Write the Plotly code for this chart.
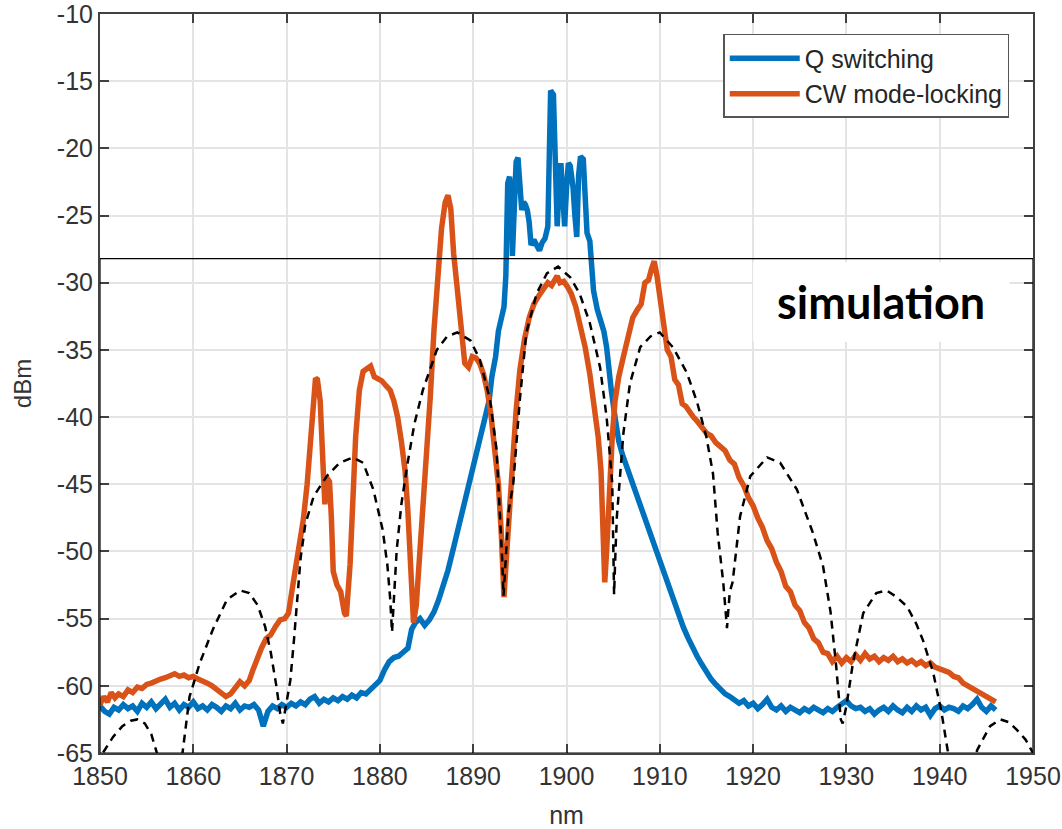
import plotly.graph_objects as go

# Measured spectrum: Q switching
q_nm = [1850.0, 1850.5, 1851.0, 1851.5, 1852.0, 1852.5, 1853.0, 1853.5, 1854.0, 1854.5,
        1855.0, 1855.5, 1856.0, 1856.5, 1857.0, 1857.5, 1858.0, 1858.5, 1859.0, 1859.5,
        1860.0, 1860.5, 1861.0, 1861.5, 1862.0, 1862.5, 1863.0, 1863.5, 1864.0, 1864.5,
        1865.0, 1865.5, 1866.0, 1866.5, 1867.0, 1867.5, 1868.0, 1868.5, 1869.0, 1869.5,
        1870.0, 1870.5, 1871.0, 1871.5, 1872.0, 1872.5, 1873.0, 1873.5, 1874.0, 1874.5,
        1875.0, 1875.5, 1876.0, 1876.5, 1877.0, 1877.5, 1878.0, 1878.5, 1879.0, 1879.5,
        1880.0, 1880.5, 1881.0, 1881.5, 1882.0, 1882.5, 1883.0, 1883.4, 1883.8, 1884.3,
        1884.8, 1885.3, 1885.8, 1886.3, 1886.8, 1887.3, 1887.8, 1888.3, 1888.8, 1889.3,
        1889.8, 1890.3, 1890.8, 1891.3, 1891.7, 1892.0, 1892.4, 1892.7, 1893.0, 1893.3,
        1893.5, 1893.6, 1893.7, 1893.9, 1894.1, 1894.2, 1894.4, 1894.6, 1894.8, 1895.0,
        1895.2, 1895.4, 1895.6, 1895.8, 1896.0, 1896.2, 1896.5, 1896.8, 1897.1, 1897.4,
        1897.7, 1898.0, 1898.1, 1898.3, 1898.6, 1898.8, 1899.0, 1899.2, 1899.4, 1899.6,
        1899.8, 1900.0, 1900.2, 1900.4, 1900.7, 1900.9, 1901.1, 1901.3, 1901.5, 1901.8,
        1902.0, 1902.2, 1902.5, 1902.7, 1902.9, 1903.3, 1903.7, 1904.0, 1904.3, 1904.5,
        1904.8, 1905.2, 1905.6, 1906.0, 1906.5, 1907.0, 1907.5, 1908.0, 1908.5, 1909.0,
        1909.5, 1910.0, 1910.5, 1911.0, 1911.5, 1912.0, 1912.5, 1913.0, 1913.5, 1914.0,
        1914.5, 1915.0, 1915.5, 1916.0, 1916.5, 1917.0, 1917.5, 1918.0, 1918.5, 1919.0,
        1919.5, 1920.0, 1920.5, 1921.0, 1921.5, 1922.0, 1922.5, 1923.0, 1923.5, 1924.0,
        1924.5, 1925.0, 1925.5, 1926.0, 1926.5, 1927.0, 1927.5, 1928.0, 1928.5, 1929.0,
        1929.5, 1930.0, 1930.5, 1931.0, 1931.5, 1932.0, 1932.5, 1933.0, 1933.5, 1934.0,
        1934.5, 1935.0, 1935.5, 1936.0, 1936.5, 1937.0, 1937.5, 1938.0, 1938.5, 1939.0,
        1939.5, 1940.0, 1940.5, 1941.0, 1941.5, 1942.0, 1942.5, 1943.0, 1943.5, 1944.0,
        1944.5, 1945.0, 1945.5, 1946.0]
q_dbm = [-61.5, -61.9, -62.1, -61.6, -61.8, -61.4, -61.7, -61.5, -61.9, -61.3,
         -61.6, -61.2, -61.7, -61.4, -61.0, -61.6, -61.3, -61.8, -61.4, -61.6,
         -61.2, -61.7, -61.5, -61.8, -61.4, -61.6, -61.9, -61.5, -61.7, -61.3,
         -61.8, -61.5, -61.6, -61.4, -61.8, -63.0, -61.9, -61.5, -61.7, -61.4,
         -61.6, -61.3, -61.5, -61.2, -61.4, -61.0, -60.8, -61.3, -61.0, -61.2,
         -60.9, -61.1, -60.8, -61.0, -60.7, -60.9, -60.5, -60.6, -60.3, -60.0,
         -59.6, -58.8, -58.2, -57.9, -57.8, -57.5, -57.2, -55.8, -55.3, -55.0,
         -55.5, -55.1, -54.5, -53.6, -52.6, -51.4, -50.0, -48.6, -47.2, -45.8,
         -44.3, -42.8, -41.3, -40.3, -38.8, -37.0, -35.5, -33.6, -32.6, -31.8,
         -29.5, -26.5, -22.6, -22.1, -24.0, -28.0, -24.5, -21.0, -20.7, -22.5,
         -24.6, -24.0, -24.2, -24.6, -25.5, -27.2, -26.8, -27.2, -27.6, -27.0,
         -26.7, -25.8, -20.0, -15.7, -16.0, -21.0, -25.8, -23.0, -21.1, -23.5,
         -25.8, -23.0, -21.1, -21.3, -22.9, -25.0, -26.6, -22.0, -20.6, -20.8,
         -24.0, -26.3, -26.9, -28.5, -30.6, -32.0, -32.8, -33.6, -34.8, -36.5,
         -38.0, -40.0, -41.8, -42.8, -43.8, -44.8, -45.8, -46.8, -47.8, -48.8,
         -49.8, -50.8, -51.8, -52.8, -53.8, -54.8, -55.6, -56.4, -57.2, -57.8,
         -58.4, -59.0, -59.5, -59.9, -60.3, -60.6, -60.8, -61.0, -61.3, -61.1,
         -61.5, -61.3, -61.7, -61.4, -61.0, -61.6, -61.8, -61.5, -61.9, -61.6,
         -61.8, -62.0, -61.7, -61.9, -61.6, -61.8, -62.0, -61.7, -61.9, -61.6,
         -61.3, -61.1, -61.5, -61.7, -61.6, -61.9, -61.7, -62.1, -61.8, -61.6,
         -61.9, -61.5, -61.8, -62.0, -61.6, -61.9, -61.5, -61.8, -61.6, -62.2,
         -61.7, -61.5, -61.8, -61.6, -61.7, -61.9, -61.5, -61.7, -61.4, -61.0,
         -61.6, -61.9, -61.5, -61.8]

# Measured spectrum: CW mode-locking
ml_nm = [1850.0, 1850.4, 1850.8, 1851.2, 1851.6, 1852.0, 1852.5, 1853.0, 1853.5, 1854.0,
         1854.5, 1855.0, 1855.5, 1856.0, 1856.5, 1857.0, 1857.5, 1858.0, 1858.5, 1859.0,
         1859.5, 1860.0, 1860.5, 1861.0, 1861.5, 1862.0, 1862.5, 1863.0, 1863.5, 1864.0,
         1864.5, 1865.0, 1865.5, 1866.0, 1866.4, 1866.8, 1867.3, 1867.8, 1868.3, 1868.8,
         1869.3, 1869.8, 1870.2, 1870.6, 1871.0, 1871.4, 1871.8, 1872.2, 1872.5, 1872.8,
         1873.1, 1873.3, 1873.6, 1873.9, 1874.1, 1874.3, 1874.6, 1874.8, 1875.0, 1875.4,
         1875.8, 1876.2, 1876.4, 1876.8, 1877.1, 1877.4, 1877.8, 1878.2, 1878.6, 1879.0,
         1879.4, 1879.8, 1880.2, 1880.7, 1881.1, 1881.5, 1881.9, 1882.3, 1882.7, 1883.0,
         1883.3, 1883.6, 1883.9, 1884.2, 1884.6, 1885.0, 1885.4, 1885.8, 1886.2, 1886.6,
         1887.0, 1887.3, 1887.6, 1887.9, 1888.3, 1888.7, 1889.1, 1889.5, 1889.9, 1890.3,
         1890.7, 1891.1, 1891.5, 1891.9, 1892.3, 1892.7, 1893.0, 1893.3, 1893.6, 1893.9,
         1894.2, 1894.6, 1895.0, 1895.5, 1896.0, 1896.5, 1897.0, 1897.5, 1898.0, 1898.4,
         1898.7, 1899.0, 1899.3, 1899.7, 1900.1, 1900.5, 1901.0, 1901.5, 1902.0, 1902.5,
         1903.0, 1903.4, 1903.7, 1903.9, 1904.1, 1904.3, 1904.6, 1904.9, 1905.2, 1905.6,
         1906.1, 1906.6, 1907.1, 1907.6, 1908.0, 1908.4, 1908.8, 1909.1, 1909.4, 1909.7,
         1910.0, 1910.4, 1910.8, 1911.2, 1911.6, 1912.0, 1912.4, 1912.8, 1913.2, 1913.6,
         1914.0, 1914.5, 1915.0, 1915.5, 1916.0, 1916.5, 1917.0, 1917.5, 1918.0, 1918.5,
         1919.0, 1919.5, 1920.0, 1920.5, 1921.0, 1921.5, 1922.0, 1922.5, 1923.0, 1923.5,
         1924.0, 1924.5, 1925.0, 1925.5, 1926.0, 1926.5, 1927.0, 1927.5, 1928.0, 1928.5,
         1929.0, 1929.5, 1930.0, 1930.5, 1931.0, 1931.5, 1932.0, 1932.5, 1933.0, 1933.5,
         1934.0, 1934.5, 1935.0, 1935.5, 1936.0, 1936.5, 1937.0, 1937.5, 1938.0, 1938.5,
         1939.0, 1939.5, 1940.0, 1940.5, 1941.0, 1941.5, 1942.0, 1942.5, 1943.0, 1943.5,
         1944.0, 1944.5, 1945.0, 1945.5, 1946.0]
ml_dbm = [-61.4, -60.8, -61.2, -60.5, -60.9, -60.6, -60.8, -60.3, -60.5, -60.1,
          -60.2, -59.9, -59.8, -59.6, -59.5, -59.4, -59.3, -59.1, -59.3, -59.2,
          -59.4, -59.3, -59.5, -59.6, -59.8, -60.0, -60.3, -60.5, -60.8, -60.6,
          -60.2, -59.7, -60.0, -59.6, -58.8, -58.0, -57.2, -56.5, -56.2, -55.6,
          -55.1, -55.0, -54.6, -52.8, -51.0, -48.9, -47.6, -45.0, -42.5, -39.0,
          -37.1, -37.2, -38.8, -43.5, -46.5, -44.5, -44.8, -47.5, -51.5, -52.5,
          -53.0, -54.6, -54.8, -51.0, -46.0, -41.5, -38.0, -36.6, -36.4, -36.2,
          -37.0, -37.2, -37.3, -37.7, -38.0, -38.8, -40.0, -41.8, -44.0, -47.0,
          -51.5, -55.3, -54.0, -51.0, -47.0, -43.0, -38.5, -33.5, -29.0, -26.0,
          -24.0, -23.5, -24.5, -27.8, -30.5, -33.5, -36.0, -36.3, -35.5, -35.6,
          -36.0, -36.8, -38.0, -39.8, -42.0, -45.0, -48.5, -53.4, -50.0, -46.5,
          -43.5, -39.5, -36.5, -34.2, -32.6, -31.6, -31.0, -30.4, -30.0, -30.2,
          -29.9, -29.5, -30.0, -29.9, -30.3, -30.8, -31.8, -33.2, -34.8, -36.8,
          -39.3, -41.5, -44.0, -48.0, -52.3, -50.0, -45.0, -41.5, -38.8, -37.0,
          -35.5, -34.0, -32.6, -32.0, -31.6, -30.0, -29.8, -29.0, -28.4, -29.5,
          -31.2, -33.0, -35.0, -35.5, -37.2, -37.6, -39.0, -39.2, -39.7, -40.0,
          -40.3, -40.7, -41.2, -41.4, -41.9, -42.2, -42.5, -43.2, -43.5, -44.5,
          -45.1, -46.0, -46.6, -47.5, -48.2, -49.2, -49.8, -50.8, -51.5, -52.6,
          -53.0, -54.0, -54.4, -55.3, -55.7, -56.5, -56.8, -57.5, -57.6, -58.2,
          -57.8, -58.3, -57.9, -58.2, -57.7, -58.1, -57.6, -58.0, -57.8, -58.2,
          -57.9, -58.1, -57.8, -58.2, -58.0, -58.3, -58.1, -58.4, -58.2, -58.5,
          -58.3, -58.6, -58.7, -58.9, -59.0, -59.3, -59.4, -59.8, -60.0, -60.2,
          -60.5, -60.6, -60.9, -61.0, -61.2]

# Simulated spectrum (dashed), lobes extend below the axis floor
sim_nm = [1849.8, 1850.3, 1851.4, 1852.4, 1853.3, 1854.0, 1854.8, 1855.5, 1856.1, 1856.8,
          1858.3, 1858.9, 1859.6, 1860.7, 1862.1, 1863.6, 1865.0, 1866.0, 1866.9, 1867.7,
          1868.3, 1868.9, 1869.3, 1869.6, 1869.9, 1870.4, 1870.8, 1871.1, 1871.5, 1872.0,
          1872.9, 1874.3, 1875.7, 1877.1, 1878.2, 1879.3, 1880.3, 1880.8, 1881.1, 1881.3,
          1881.5, 1881.8, 1882.3, 1882.9, 1883.7, 1884.6, 1886.1, 1887.2, 1888.3, 1889.7,
          1890.7, 1891.8, 1892.5, 1892.9, 1893.1, 1893.25, 1893.5, 1893.8, 1894.3, 1895.0,
          1895.7, 1896.8, 1897.9, 1899.1, 1900.4, 1901.4, 1902.5, 1903.6, 1904.3, 1904.9,
          1905.0, 1905.1, 1905.25, 1905.4, 1906.1, 1906.8, 1907.9, 1909.0, 1910.0, 1911.4,
          1912.9, 1914.0, 1915.0, 1915.7, 1916.2, 1916.8, 1917.2, 1917.5, 1917.8, 1918.6,
          1919.7, 1921.5, 1922.9, 1924.7, 1926.4, 1927.5, 1928.3, 1928.9, 1929.4, 1929.6,
          1930.0, 1930.7, 1931.8, 1933.2, 1934.3, 1935.4, 1936.5, 1937.5, 1938.2, 1939.3,
          1940.2, 1940.9, 1941.4, 1943.6, 1944.0, 1945.4, 1946.5, 1947.4, 1948.3, 1949.2,
          1950.0]
sim_dbm = [-67.0, -65.0, -63.8, -63.0, -62.6, -62.5, -62.8, -63.6, -65.0, -68.0,
           -68.0, -64.5, -60.8, -58.3, -55.8, -53.6, -52.9, -53.1, -54.0, -55.6,
           -57.5, -60.0, -62.0, -62.8, -61.5, -59.6, -56.5, -54.0, -50.5, -48.0,
           -45.9, -44.4, -43.4, -43.0, -43.4, -45.4, -48.4, -51.0, -53.5, -56.0,
           -53.5, -49.9, -46.5, -43.7, -40.5, -38.0, -35.0, -34.0, -33.7, -34.3,
           -35.7, -38.7, -42.4, -47.4, -50.5, -53.3, -50.0, -47.0, -44.9, -38.7,
           -33.7, -30.8, -29.3, -28.8, -29.6, -30.8, -33.0, -36.3, -40.0, -44.9,
           -49.0, -53.2, -50.0, -47.4, -41.2, -37.5, -34.8, -34.0, -33.7, -34.8,
           -36.7, -38.9, -41.5, -44.2, -48.6, -52.3, -55.7, -53.0, -52.3, -47.4,
           -44.4, -43.0, -43.4, -45.4, -48.6, -51.1, -54.5, -58.5, -62.5, -62.8,
           -61.5, -58.3, -54.6, -53.1, -52.9, -53.4, -54.1, -55.4, -56.6, -59.0,
           -62.0, -65.0, -68.0, -68.0, -64.8, -63.0, -62.5, -62.7, -63.3, -64.0,
           -65.0]

# Outline of the simulation panel
sim_box_nm = [1850, 1950]
sim_box_dbm = [-65, -28.2]

# Axis ticks
x_ticks = [1850, 1860, 1870, 1880, 1890, 1900, 1910, 1920, 1930, 1940, 1950]
x_labels = ["1850", "1860", "1870", "1880", "1890", "1900", "1910", "1920", "1930", "1940", "1950"]
y_ticks = [-65, -60, -55, -50, -45, -40, -35, -30, -25, -20, -15, -10]
y_labels = ["-65", "-60", "-55", "-50", "-45", "-40", "-35", "-30", "-25", "-20", "-15", "-10"]

x_range = [1850, 1950]
y_range = [-65, -10]

BLUE = "#0072BD"
ORANGE = "#D95319"
AXIS = "#404040"
FONT = "Liberation Sans, Arial, sans-serif"

fig = go.Figure()
fig.add_trace(go.Scatter(x=q_nm, y=q_dbm, mode="lines", name="Q switching",
                         line=dict(color=BLUE, width=5.5)))
fig.add_trace(go.Scatter(x=ml_nm, y=ml_dbm, mode="lines", name="CW mode-locking",
                         line=dict(color=ORANGE, width=5.5)))
fig.add_trace(go.Scatter(x=sim_nm, y=sim_dbm, mode="lines", showlegend=False,
                         line=dict(color="black", width=2.5, dash="8px,6px")))

# simulation panel frame
fig.add_shape(type="rect", x0=sim_box_nm[0], x1=sim_box_nm[1],
              y0=sim_box_dbm[0], y1=sim_box_dbm[1],
              line=dict(color="black", width=1.2), layer="above")
# white patch behind the label, hiding grid lines
fig.add_shape(type="rect", x0=1920.0, x1=1947.5, y0=-34.4, y1=-28.45,
              fillcolor="white", line=dict(width=0), layer="between")
fig.add_annotation(x=1933.7, y=-31.4, text="<b>simulation</b>", showarrow=False,
                   font=dict(family="Lato, Open Sans, sans-serif", size=45, color="black"),
                   xanchor="center", yanchor="middle")

axis_common = dict(
    showline=True, linecolor=AXIS, linewidth=2, mirror="ticks",
    ticks="inside", ticklen=9, tickwidth=2, tickcolor=AXIS,
    showgrid=True, gridcolor="#e4e4e4", gridwidth=2,
    zeroline=False, automargin=False, ticklabeloverflow="allow",
    tickfont=dict(family=FONT, size=25, color="#333333"),
)

fig.update_xaxes(range=x_range, tickmode="array", tickvals=x_ticks, ticktext=x_labels,
                 **axis_common,
                 title=dict(text="nm", font=dict(family=FONT, size=25, color="#333333"),
                            standoff=18))
fig.update_yaxes(range=y_range, tickmode="array", tickvals=y_ticks, ticktext=y_labels,
                 **axis_common,
                 title=dict(text="dBm", font=dict(family=FONT, size=24, color="#333333"),
                            standoff=18))

fig.update_layout(
    width=1062, height=829,
    margin=dict(l=100, r=29, t=14, b=76),
    paper_bgcolor="white", plot_bgcolor="white",
    font=dict(family=FONT, color="#333333"),
    legend=dict(x=0.668, y=0.973, xanchor="left", yanchor="top",
                bgcolor="white", bordercolor="#555555", borderwidth=1.5,
                font=dict(family=FONT, size=25, color="#262626"),
                itemwidth=70, tracegroupgap=0),
)

fig.write_html("out.html")
